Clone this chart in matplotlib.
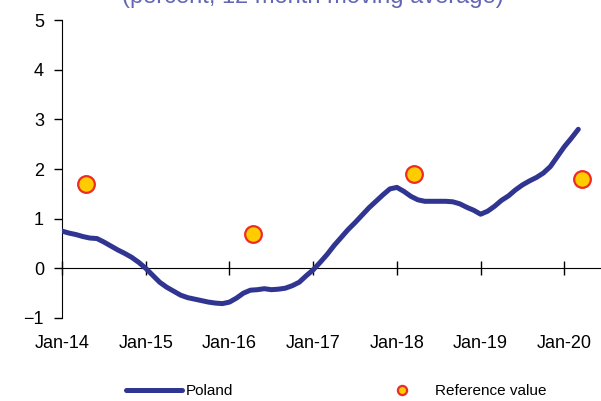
import numpy as np
import matplotlib
matplotlib.use('Agg')
import matplotlib.pyplot as plt

plt.rcParams['font.family'] = ['Liberation Sans', 'DejaVu Sans']

# Poland HICP inflation, 12 month moving average, monthly from Jan-14
poland = [0.75, 0.71, 0.68, 0.64, 0.61, 0.60, 0.53, 0.45, 0.37, 0.30, 0.22, 0.12,
          0.00, -0.14, -0.28, -0.38, -0.46, -0.54, -0.59, -0.62, -0.65, -0.68, -0.70, -0.71,
          -0.68, -0.60, -0.50, -0.44, -0.43, -0.41, -0.43, -0.42, -0.40, -0.35, -0.28, -0.15,
          -0.03, 0.12, 0.28, 0.46, 0.62, 0.78, 0.92, 1.07, 1.22, 1.35, 1.48, 1.60,
          1.63, 1.55, 1.45, 1.38, 1.35, 1.35, 1.35, 1.35, 1.34, 1.30, 1.23, 1.17,
          1.09, 1.15, 1.25, 1.37, 1.46, 1.58, 1.68, 1.76, 1.83, 1.92, 2.05, 2.25,
          2.45, 2.62, 2.80]
months = np.arange(len(poland))

# reference values (month index from Jan-14)
ref_months = [3.4, 27.4, 50.5, 74.6]
ref_values = [1.7, 0.7, 1.9, 1.8]

tick_labels = ['Jan-14', 'Jan-15', 'Jan-16', 'Jan-17', 'Jan-18', 'Jan-19', 'Jan-20']
tick_pos = [12 * i for i in range(len(tick_labels))]

fig = plt.figure(figsize=(6.01, 4.01), dpi=100)
ax = fig.add_axes([0.1032, 0.207, 0.895, 0.743])

ax.plot(months, poland, color='#303591', lw=3.6, solid_capstyle='round',
        label='Poland', zorder=3)
ax.plot(ref_months, ref_values, 'o', ms=12, mfc='#FFCC00', mec='#EE2B24', mew=1.6,
        label='Reference value', zorder=4)

ax.set_xlim(0, 77.1)
ax.set_ylim(-1, 5)
ax.set_yticks(range(-1, 6))

ax.spines['top'].set_visible(False)
ax.spines['right'].set_visible(False)
ax.spines['bottom'].set_position(('data', 0))
ax.spines['left'].set_color('black')
ax.spines['bottom'].set_color('black')

ax.set_xticks(tick_pos)
ax.set_xticklabels(tick_labels)
ax.tick_params(axis='x', direction='inout', length=10, width=1, pad=43,
               labelsize=13, colors='black')
ax.tick_params(axis='y', direction='out', length=6, width=1, pad=7,
               labelsize=13, colors='black')

leg = ax.legend(loc='center', bbox_to_anchor=(0.559, 0.024), bbox_transform=fig.transFigure,
                ncol=2, frameon=False, fontsize=11, handlelength=3.7, handletextpad=0.25,
                columnspacing=9.2, markerscale=0.55)

# title sits mostly above the top edge, as in the source image
fig.text(313 / 601, 1 - 3.5 / 401, '(percent, 12 month moving average)', ha='center',
         va='baseline', fontsize=17, color='#6466B4')

fig.savefig('out.png', dpi=100)
